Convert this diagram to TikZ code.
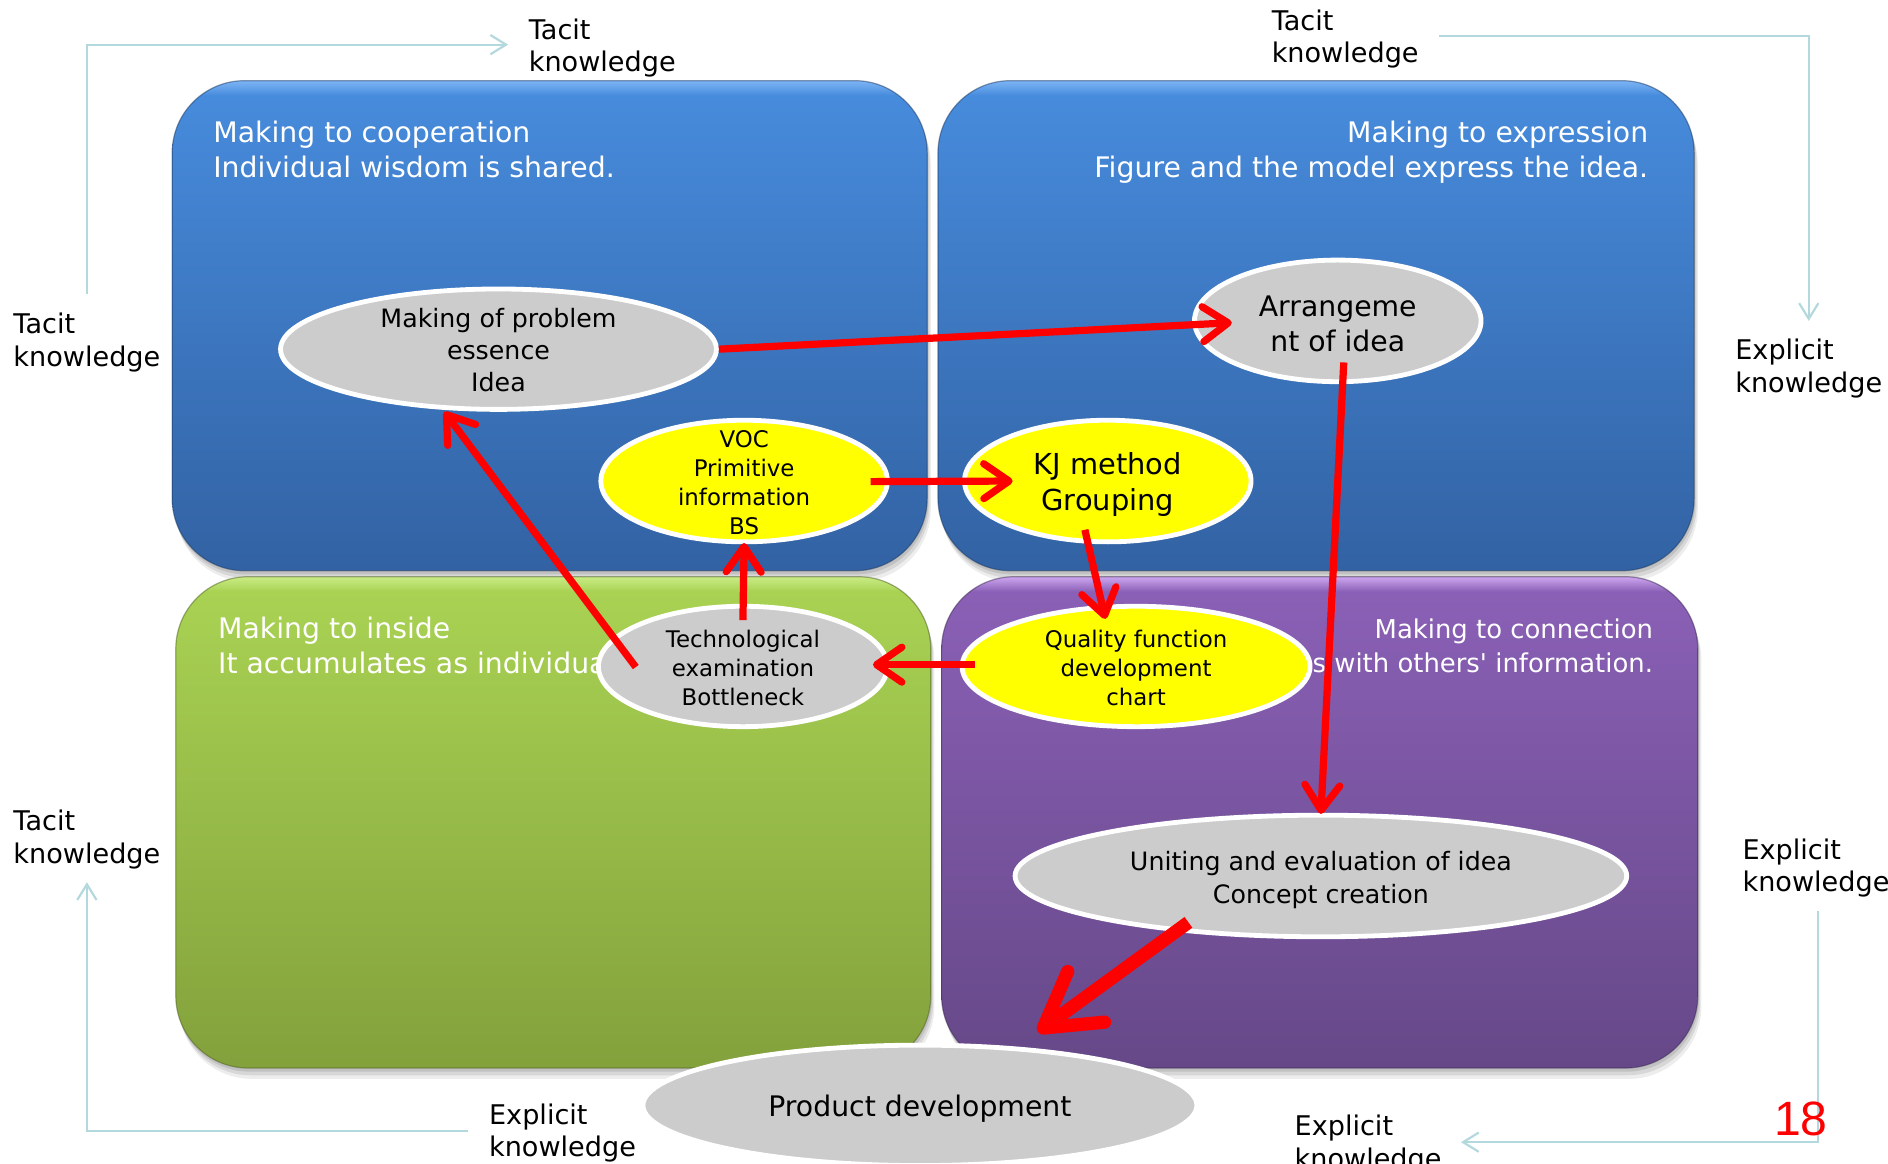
\documentclass[tikz,border=0pt]{standalone}
\usepackage{fontspec}
\setmainfont{DejaVu Sans}[Ligatures=TeXOff]
\newfontfamily\numfont{Liberation Sans}
\usetikzlibrary{shapes.geometric,arrows.meta,calc}
\newcommand\setfs[2]{\fontsize{#1pt}{#2pt}\selectfont}

\definecolor{bluetop}{HTML}{478BDC}
\definecolor{bluebot}{HTML}{3262A3}
\definecolor{bluehl}{HTML}{7DB5F5}
\definecolor{greentop}{HTML}{A9D253}
\definecolor{greenbot}{HTML}{83A13C}
\definecolor{greenhl}{HTML}{C9EC85}
\definecolor{purptop}{HTML}{8A60B6}
\definecolor{purpbot}{HTML}{664888}
\definecolor{purphl}{HTML}{CDA6F0}
\definecolor{ellgray}{HTML}{CCCCCC}
\definecolor{lineblue}{HTML}{B3D9DF}
\definecolor{pyellow}{HTML}{FFFF00}
\definecolor{pred}{HTML}{FF0000}

\pgfdeclareverticalshading{blueq}{100bp}{color(0bp)=(bluebot); color(25bp)=(bluebot); color(73.5bp)=(bluetop); color(75bp)=(bluehl); color(100bp)=(bluehl)}
\pgfdeclareverticalshading{greenq}{100bp}{color(0bp)=(greenbot); color(25bp)=(greenbot); color(73.5bp)=(greentop); color(75bp)=(greenhl); color(100bp)=(greenhl)}
\pgfdeclareverticalshading{purpq}{100bp}{color(0bp)=(purpbot); color(25bp)=(purpbot); color(73.5bp)=(purptop); color(75bp)=(purphl); color(100bp)=(purphl)}

\begin{document}
\begin{tikzpicture}[x=1pt,y=-1pt,
  boxshadow/.style={
    preaction={fill=black,fill opacity=0.10,transform canvas={xshift=1pt,yshift=-3pt}},
    preaction={fill=black,fill opacity=0.09,transform canvas={xshift=2pt,yshift=-6pt}},
    preaction={fill=black,fill opacity=0.07,transform canvas={xshift=3pt,yshift=-9pt}}},
  qbox/.style={rounded corners=60pt, line width=1pt, draw opacity=0.5, boxshadow},
  btxt/.style={text=white, inner sep=0pt, font=\setfs{23.5}{29}},
  lbl/.style={text=black, inner sep=0pt, align=left, anchor=north west, font=\setfs{22.5}{27}},
  ell/.style={ellipse, draw=white, line width=4pt, inner sep=0pt},
  gell/.style={ell, fill=ellgray},
  yell/.style={ell, fill=pyellow},
  etxt/.style={text=black, inner sep=0pt, align=center},
  redarr/.style={draw=pred, line width=6pt, -{Straight Barb[length=21pt,width=29pt,round]}},
  bigarr/.style={draw=pred, line width=11pt, -{Straight Barb[length=44pt,width=52pt,round]}},
  bluearr/.style={draw=lineblue, line width=1.8pt, -{Straight Barb[length=13pt,width=16pt]}}
]
\useasboundingbox (0,0) rectangle (1568,966);
\fill[white] (0,0) rectangle (1568,966);

% quadrant boxes
\shadedraw[qbox, shading=blueq, draw=bluebot!60!black] (143,67) rectangle (770,474);
\shadedraw[qbox, shading=blueq, draw=bluebot!60!black] (779,67) rectangle (1407,474);
\shadedraw[qbox, shading=greenq, draw=greenbot!60!black] (146,479) rectangle (773,887);
\shadedraw[qbox, shading=purpq, draw=purpbot!60!black] (782,479) rectangle (1410,887);

% box texts
\node[btxt, anchor=north west, align=left] (q1) at (177,100) {Making to cooperation\\Individual wisdom is shared.};
\node[btxt, anchor=north east, align=right] (q2) at (1369,100) {Making to expression\\Figure and the model express the idea.};
\node[btxt, anchor=north west, align=left] (q3) at (181,512) {Making to inside\\It accumulates as individua};
\node[btxt, anchor=north east, align=right, font=\setfs{21.5}{28}] (q4) at (1373,514) {Making to connection\\s with others' information.};

% ellipses
\node[gell, minimum width=362pt, minimum height=100pt] (mop) at (414,290) {};
\node[gell, minimum width=238pt, minimum height=101pt] (arr) at (1111,266.5) {};
\node[yell, minimum width=238pt, minimum height=101pt] (voc) at (618,399.5) {};
\node[yell, minimum width=238pt, minimum height=101pt] (kj) at (920,399.5) {};
\node[gell, minimum width=240pt, minimum height=100pt] (tech) at (617,553.5) {};
\node[yell, minimum width=289pt, minimum height=100pt] (qfd) at (943.5,553.5) {};
\node[gell, minimum width=508pt, minimum height=101pt] (unite) at (1097,727.5) {};
\node[gell, minimum width=460pt, minimum height=100pt] (prod) at (764,918) {};

\node[etxt, font=\setfs{21}{26.5}, yshift=-1pt] (mopt) at (mop.center) {Making of problem\\essence\\Idea};
\node[etxt, font=\setfs{23.5}{29}, yshift=-2.5pt] (arrt) at (arr.center) {Arrangeme\\nt of idea};
\node[etxt, font=\setfs{19}{24}, yshift=-1.5pt] (voct) at (voc.center) {VOC\\Primitive\\information\\BS};
\node[etxt, font=\setfs{24}{29.5}, yshift=-3pt] (kjt) at (kj.center) {KJ method\\Grouping};
\node[etxt, font=\setfs{19}{24}, yshift=-1.5pt] (techt) at (tech.center) {Technological\\examination\\Bottleneck};
\node[etxt, font=\setfs{19}{24}, yshift=-1.5pt] (qfdt) at (qfd.center) {Quality function\\development\\chart};
\node[etxt, font=\setfs{21}{27}, yshift=-3.5pt] (unitet) at (unite.center) {Uniting and evaluation of idea\\Concept creation};
\node[etxt, font=\setfs{23.5}{29}, yshift=-3pt] (prodt) at (prod.center) {Product development};

% red arrows
\draw[redarr] (mop.east) -- ($(arr.center)+(-88,1.5)$);
\draw[redarr] ($(arr.center)+(5,34.5)$) -- ($(unite.center)+(0,-51.5)$);
\draw[redarr] ($(voc.center)+(105,0.5)$) -- ($(kj.center)+(-79,0)$);
\draw[redarr] ($(kj.center)+(-19,40.5)$) -- ($(qfd.center)+(-25.5,-39.5)$);
\draw[redarr] ($(qfd.center)+(-133.5,-1.5)$) -- ($(tech.center)+(108,-1.5)$);
\draw[redarr] ($(tech.center)+(0,-38.5)$) -- ($(voc.center)+(0,51.5)$);
\draw[redarr] ($(tech.center)+(-89,0.5)$) -- ($(mop.center)+(-45,52)$);
\draw[bigarr] ($(unite.center)+(-110,38.5)$) -- ($(prod.center)+(98,-61)$);

% side labels
\node[lbl] (tkT1) at (439,15.5) {Tacit\\knowledge};
\node[lbl] (tkT2) at (1056,8) {Tacit\\knowledge};
\node[lbl] (tkL1) at (11,260) {Tacit\\knowledge};
\node[lbl] (exR1) at (1441,281.5) {Explicit\\knowledge};
\node[lbl] (tkL2) at (11,672.5) {Tacit\\knowledge};
\node[lbl] (exR2) at (1447,696.5) {Explicit\\knowledge};
\node[lbl] (exB1) at (406,916.5) {Explicit\\knowledge};
\node[lbl] (exB2) at (1075,926) {Explicit\\knowledge};

% light blue cycle connectors
\draw[bluearr, shorten <=16pt, shorten >=17pt] (tkL1.north) |- ([yshift=3pt]tkT1.west);
\draw[bluearr, shorten <=17pt, shorten >=15pt] ([yshift=3pt]tkT2.east) -| (exR1.north);
\draw[bluearr, shorten <=11pt, shorten >=16pt] ([xshift=2pt]exR2.south) |- ([yshift=2pt]exB2.east);
\draw[bluearr, shorten <=17pt, shorten >=11pt] ([yshift=2pt]exB1.west) -| (tkL2.south);

% page number
\node[text=pred, inner sep=0pt, anchor=base east, font=\numfont\setfs{40}{48}] (pg) at (1518,943) {18};
\end{tikzpicture}
\end{document}
